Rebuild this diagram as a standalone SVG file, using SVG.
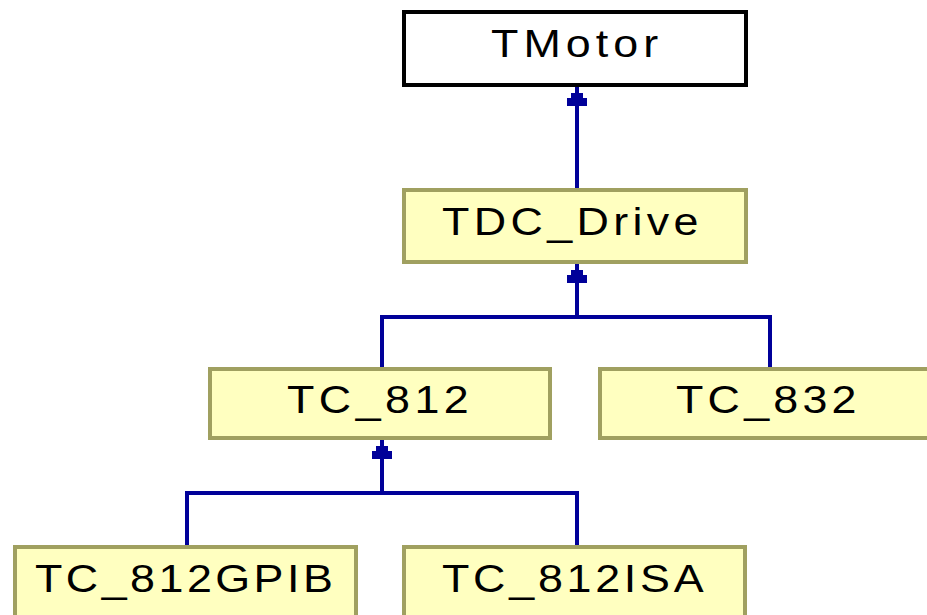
<svg xmlns="http://www.w3.org/2000/svg" width="927" height="615" viewBox="0 0 927 615">
<style>
.box{fill:#ffffc0;stroke:#a0a060;stroke-width:4}
.root{fill:#ffffff;stroke:#000000;stroke-width:4}
.lbl{font-family:"Liberation Sans",Arial,sans-serif;font-size:39px;fill:#000000}
.edge{fill:none;stroke:#000099;stroke-width:4}
</style>
<defs>
<marker id="inh" viewBox="0 0 20 20" refX="19" refY="10" markerWidth="20" markerHeight="20" markerUnits="userSpaceOnUse" orient="auto">
<path d="M0,0 H8 V4 H13 V16 H8 V20 H0 Z" fill="#000099"/>
</marker>
</defs>
<rect width="927" height="615" fill="#ffffff"/>
<g id="connectors">
<path class="edge" d="M577,188 V87" marker-end="url(#inh)"/>
<path class="edge" d="M577,317 V264" marker-end="url(#inh)"/>
<path class="edge" d="M382,367 V317 H770 V367"/>
<path class="edge" d="M382,493 V440" marker-end="url(#inh)"/>
<path class="edge" d="M187,545 V493 H577 V545"/>
</g>
<g id="TMotor">
<rect class="root" x="404" y="12" width="342" height="73"/>
<text class="lbl" transform="translate(491,57) scale(1.15,1)" textLength="145.5" lengthAdjust="spacing">TMotor</text>
</g>
<g id="TDC_Drive">
<rect class="box" x="404" y="190" width="342" height="72"/>
<text class="lbl" transform="translate(442,235) scale(1.15,1)" textLength="223" lengthAdjust="spacing">TDC_Drive</text>
</g>
<g id="TC_812">
<rect class="box" x="210" y="369" width="340" height="69"/>
<text class="lbl" transform="translate(287,413) scale(1.15,1)" textLength="158" lengthAdjust="spacing">TC_812</text>
</g>
<g id="TC_832">
<rect class="box" x="600" y="369" width="335" height="69"/>
<text class="lbl" transform="translate(676,413) scale(1.15,1)" textLength="157" lengthAdjust="spacing">TC_832</text>
</g>
<g id="TC_812GPIB">
<rect class="box" x="15" y="547" width="341" height="72"/>
<text class="lbl" transform="translate(35,592) scale(1.15,1)" textLength="259" lengthAdjust="spacing">TC_812GPIB</text>
</g>
<g id="TC_812ISA">
<rect class="box" x="404" y="547" width="341" height="72"/>
<text class="lbl" transform="translate(442,592) scale(1.15,1)" textLength="227.5" lengthAdjust="spacing">TC_812ISA</text>
</g>
</svg>
